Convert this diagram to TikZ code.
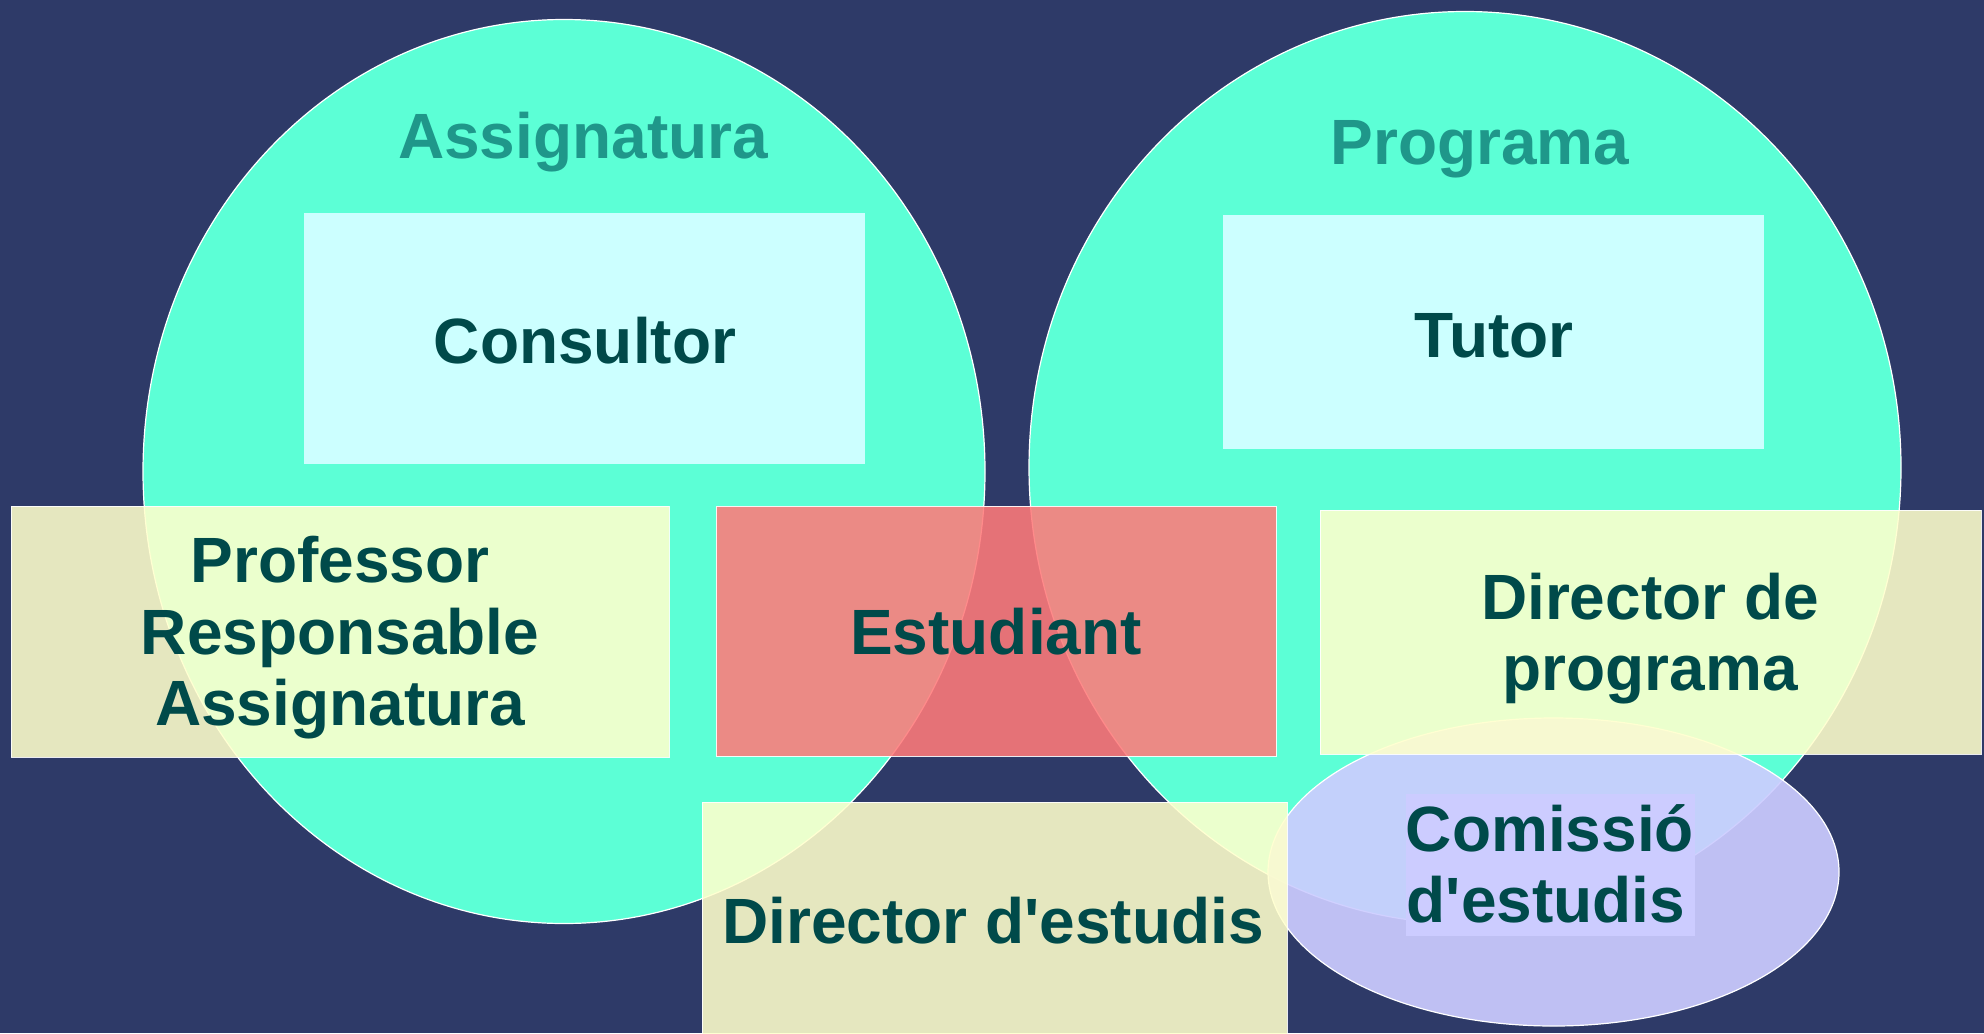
\documentclass[tikz,border=0pt]{standalone}
\usepackage{fontspec}
\setmainfont{Liberation Sans}
\definecolor{bgnavy}{HTML}{2E3A68}
\definecolor{turq}{HTML}{5CFFD6}
\definecolor{paleblue}{HTML}{CCFFFF}
\definecolor{paleyellow}{HTML}{FFFFCC}
\definecolor{salmon}{HTML}{FF7A7A}
\definecolor{lavender}{HTML}{CCCCFF}
\definecolor{darkteal}{HTML}{004A4A}
\definecolor{titleteal}{HTML}{1F978A}
\begin{document}
\begin{tikzpicture}[x=0.5pt,y=-0.5pt,
  bigcircle/.style={fill=turq,draw=white,line width=0.6pt},
  cyanbox/.style={fill=paleblue,draw=none},
  yellowbox/.style={fill=paleyellow,fill opacity=0.88,draw=white,line width=0.5pt,draw opacity=0.9},
  redbox/.style={fill=salmon,fill opacity=0.88,draw=white,line width=0.5pt,draw opacity=0.9},
  lavellipse/.style={fill=lavender,fill opacity=0.92,draw=white,line width=0.6pt},
  lbl/.style={anchor=base,inner sep=0pt,text=darkteal,font=\fontsize{32}{36}\selectfont\bfseries},
  ttl/.style={anchor=base,inner sep=0pt,text=titleteal,font=\fontsize{32}{36}\selectfont\bfseries}]
\fill[bgnavy] (0,0) rectangle (1984,1033);
\useasboundingbox (0,0) rectangle (1984,1033);
% circles
\draw[bigcircle] (564,471.5) ellipse [x radius=421, y radius=452];
\draw[bigcircle] (1465,467.5) ellipse [x radius=436, y radius=456];
% comissio ellipse
\draw[lavellipse] (1553.5,872) ellipse [x radius=285.5, y radius=154];
\fill[lavender] (1406,794) rectangle (1695,936);
% boxes
\fill[cyanbox] (304,213) rectangle (865,464);
\fill[cyanbox] (1223,215) rectangle (1764,449);
\draw[yellowbox] (11,506) rectangle (669,757);
\draw[redbox] (716,506) rectangle (1276,756);
\draw[yellowbox] (1320,510) rectangle (1981,754);
\draw[yellowbox] (702,802) rectangle (1287,1040);
% texts
\node[ttl] (tassig) at (583,158) {Assignatura};
\node[ttl] (tprog) at (1480,164) {Programa};
\node[lbl] (consultor) at (585,363) {Consultor};
\node[lbl] (tutor) at (1494,357) {Tutor};
\node[lbl] (prof1) at (340,582) {Professor};
\node[lbl] (prof2) at (340,654) {Responsable};
\node[lbl] (prof3) at (340,725) {Assignatura};
\node[lbl] (estudiant) at (996,654) {Estudiant};
\node[lbl] (dprog1) at (1650,619) {Director de};
\node[lbl] (dprog2) at (1650,690) {programa};
\node[lbl] (dest) at (993,943) {Director d\textquotesingle estudis};
\node[lbl] (com1) at (1550,851) {Comissió};
\node[lbl] (com2) at (1546,922) {d\textquotesingle estudis};
\end{tikzpicture}
\end{document}
